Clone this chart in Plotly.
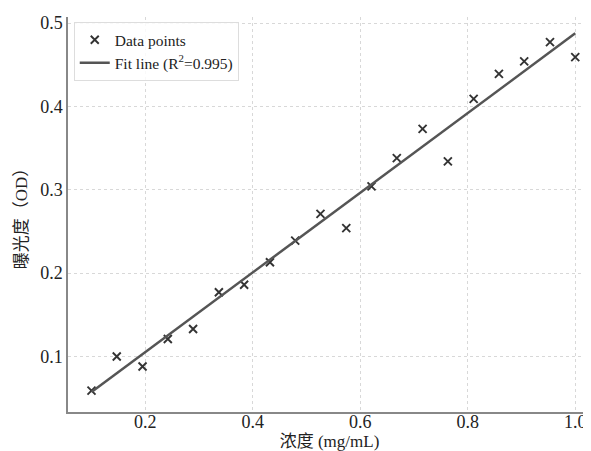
import plotly.graph_objects as go

conc = [0.1, 0.147, 0.195, 0.242, 0.289, 0.337, 0.384, 0.432, 0.479, 0.526,
        0.574, 0.621, 0.668, 0.716, 0.763, 0.811, 0.858, 0.905, 0.953, 1.0]
od = [0.059, 0.100, 0.088, 0.121, 0.133, 0.177, 0.186, 0.213, 0.239, 0.271,
      0.254, 0.304, 0.338, 0.373, 0.334, 0.409, 0.439, 0.454, 0.477, 0.459]
fit_x = [0.1, 1.0]
fit_y = [0.0574, 0.4876]
x_ticks = [0.2, 0.4, 0.6, 0.8, 1.0]
x_ticktext = ["0.2", "0.4", "0.6", "0.8", "1.0"]
y_ticks = [0.1, 0.2, 0.3, 0.4, 0.5]
y_ticktext = ["0.1", "0.2", "0.3", "0.4", "0.5"]

serif = "Liberation Serif, Times New Roman, serif"
cjk = "Liberation Serif, Noto Sans CJK SC"

fig = go.Figure()
fig.add_trace(go.Scatter(x=conc, y=od, mode="markers", name="Data points",
                         marker=dict(symbol="x-thin", size=8, color="#333333",
                                     line=dict(width=1.9, color="#333333"))))
fig.add_trace(go.Scatter(x=fit_x, y=fit_y, mode="lines",
                         name="Fit line (R<sup>2</sup>=0.995)",
                         line=dict(color="#555555", width=2.5)))

fig.update_layout(
    width=583, height=443,
    margin=dict(l=60, r=0, t=9, b=39, autoexpand=False),
    paper_bgcolor="white", plot_bgcolor="white",
    font=dict(family=serif, size=18, color="#222222"),
    showlegend=True,
    legend=dict(x=0.011, y=0.987, xanchor="left", yanchor="top",
                bgcolor="rgba(255,255,255,0.85)", bordercolor="#dddddd", borderwidth=1,
                font=dict(family=serif, size=15.5, color="#222222"),
                tracegroupgap=0, itemwidth=30),
    xaxis=dict(range=[0.0563, 1.0293], tickvals=x_ticks, ticktext=x_ticktext,
               showgrid=True, gridcolor="#d8d8d8", griddash="dot", gridwidth=1,
               showline=True, linecolor="#888888", linewidth=1.5, mirror=False,
               ticks="", ticklen=0, ticklabelstandoff=-7, zeroline=False, automargin=False,
               tickfont=dict(family=serif, size=18),
               title=dict(text="浓度 (mg/mL)", font=dict(family=cjk, size=17), standoff=13)),
    yaxis=dict(range=[0.0334, 0.5072], tickvals=y_ticks, ticktext=y_ticktext,
               showgrid=True, gridcolor="#d8d8d8", griddash="dot", gridwidth=1,
               showline=True, linecolor="#888888", linewidth=1.5, mirror=False,
               ticks="", zeroline=False, automargin=False,
               tickfont=dict(family=serif, size=18),
               title=dict(text="曝光度（OD）", font=dict(family=cjk, size=17), standoff=8)),
)

fig.write_html("out.html",
               post_script="document.documentElement.style.overflow='hidden';"
                           "document.body.style.overflow='hidden';")
